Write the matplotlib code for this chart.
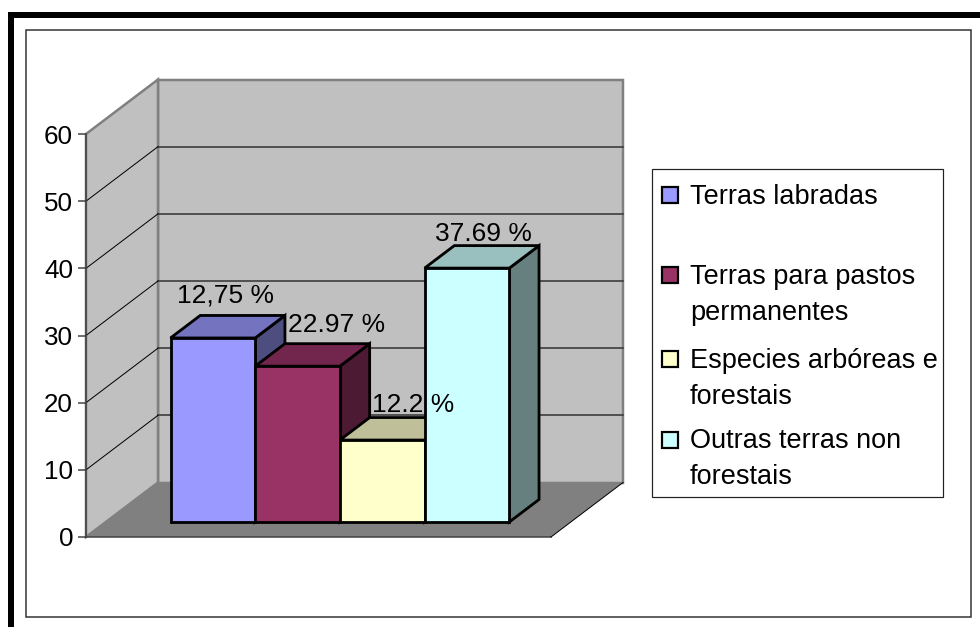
import matplotlib
matplotlib.use('Agg')
import matplotlib.pyplot as plt
from matplotlib.patches import Polygon, Rectangle

plt.rcParams['font.family'] = ['Liberation Sans', 'DejaVu Sans']

# chart values
categories = ['Terras labradas', 'Terras para pastos\npermanentes',
              'Especies arbóreas e\nforestais', 'Outras terras non\nforestais']
values = [27.4, 23.2, 12.2, 37.8]
bar_labels = ['12,75 %', '22.97 %', '12.2 %', '37.69 %']
yticks = [0, 10, 20, 30, 40, 50, 60]
colors = ['#9999FF', '#993366', '#FFFFCC', '#CCFFFF']

W, H = 980, 627
PX = 0.72  # one pixel in points at dpi 100

# layout of the fake 3d box, in pixels
plot_left, plot_right, plot_top, plot_bottom = 86, 551, 134, 537
bar_px = 84.7
px_per_val = (plot_bottom - plot_top) / 60
depth_x = 72 / bar_px
depth_y = 54.5 / px_per_val
d_front, d_back = 15 / 54.5, 37.5 / 54.5
xmin = -0.5 - (170.5 - 19.8 - plot_left) / bar_px
xmax = xmin + (plot_right - plot_left) / bar_px
label_offsets = [(-17, 20), (9, 19), (1, 13), (-13, 12)]  # px from back top centre


def proj(x, y, d):
    return (x + d * depth_x, y + d * depth_y)


def face(ax, pts, fc, ec, lw, z):
    ax.add_patch(Polygon([proj(*p) for p in pts], closed=True, facecolor=fc, edgecolor=ec,
                         linewidth=lw * PX, joinstyle='miter', clip_on=False, zorder=z))


def shade(hex_color, k):
    rgb = matplotlib.colors.to_rgb(hex_color)
    return tuple(c * k for c in rgb)


fig = plt.figure(figsize=(W / 100, H / 100), dpi=100, facecolor='white')

# page frames and legend live on a pixel axes
bg = fig.add_axes([0, 0, 1, 1], zorder=0)
bg.set_xlim(0, W)
bg.set_ylim(H, 0)
bg.axis('off')
bg.add_patch(Rectangle((8, 12), 6, H, facecolor='black', edgecolor='none'))
bg.add_patch(Rectangle((8, 12), W, 6, facecolor='black', edgecolor='none'))
bg.add_patch(Rectangle((26, 30), 945, 587, facecolor='white', edgecolor='#303030', linewidth=1.5 * PX))

# legend
bg.add_patch(Rectangle((652, 169), 291, 328, facecolor='white', edgecolor='#202020', linewidth=1.2 * PX))
legend_y = [195, 275, 359, 440]
for name, c, y in zip(categories, colors, legend_y):
    bg.add_patch(Rectangle((662, y - 8), 16, 16, facecolor=c, edgecolor='black', linewidth=2.2 * PX))
    first_line_y = y + 1.5
    bg.text(690, first_line_y, name.split('\n')[0], fontsize=19.5, va='center', ha='left', color='black')
    if '\n' in name:
        bg.text(690, first_line_y + 36, name.split('\n')[1], fontsize=19.5, va='center', ha='left', color='black')

# main axes sits exactly on the front plane of the box
ax = fig.add_axes([plot_left / W, 1 - plot_bottom / H, (plot_right - plot_left) / W,
                   (plot_bottom - plot_top) / H], zorder=1)
ax.patch.set_alpha(0)
ax.set_xlim(xmin, xmax)
ax.set_ylim(0, 60)
for s in ['top', 'right', 'bottom']:
    ax.spines[s].set_visible(False)
ax.spines['left'].set_color('#404040')
ax.spines['left'].set_linewidth(1.5 * PX)
ax.spines['left'].set_zorder(2.5)
ax.set_xticks([])
ax.set_yticks(yticks)
ax.tick_params(axis='y', length=8 * PX, width=1.5 * PX, color='#404040', pad=5 * PX, labelsize=18.7)

# walls and floor
face(ax, [(xmin, 0, 1), (xmax, 0, 1), (xmax, 60, 1), (xmin, 60, 1)], '#C0C0C0', '#808080', 2.5, 1)
face(ax, [(xmin, 0, 0), (xmin, 60, 0), (xmin, 60, 1), (xmin, 0, 1)], '#C0C0C0', '#808080', 2.5, 1)
face(ax, [(xmin, 0, 0), (xmax, 0, 0), (xmax, 0, 1), (xmin, 0, 1)], '#808080', 'none', 0, 1.5)
for t in yticks[1:-1]:
    xs, ys = zip(proj(xmin, t, 1), proj(xmax, t, 1))
    ax.plot(xs, ys, color='#404040', lw=1.7 * PX, clip_on=False, zorder=1.2)
    xs, ys = zip(proj(xmin, t, 0), proj(xmin, t, 1))
    ax.plot(xs, ys, color='black', lw=1 * PX, clip_on=False, zorder=1.2)
ax.plot([xmin, xmax], [0, 0], color='#404040', lw=1.5 * PX, clip_on=False, zorder=2)
xs, ys = zip(proj(xmax, 0, 0), proj(xmax, 0, 1))
ax.plot(xs, ys, color='black', lw=1 * PX, clip_on=False, zorder=2)

# bars, left to right so the next one covers the side of the last
for i, (v, c) in enumerate(zip(values, colors)):
    x0, x1 = i - 0.5, i + 0.5
    z = 3 + i * 0.1
    face(ax, [(x1, 0, d_front), (x1, 0, d_back), (x1, v, d_back), (x1, v, d_front)], shade(c, 0.5), 'black', 2.8, z)
    face(ax, [(x0, v, d_front), (x1, v, d_front), (x1, v, d_back), (x0, v, d_back)], shade(c, 0.75), 'black', 2.8, z)
    face(ax, [(x0, 0, d_front), (x1, 0, d_front), (x1, v, d_front), (x0, v, d_front)], c, 'black', 2.8, z)

for i, (v, lab, off) in enumerate(zip(values, bar_labels, label_offsets)):
    ax.annotate(lab, proj(i, v, d_back), xytext=(off[0] * PX, off[1] * PX), textcoords='offset points',
                ha='center', va='center', fontsize=19, color='black', zorder=6, annotation_clip=False)

fig.savefig('out.png', dpi=100)
plt.close(fig)
